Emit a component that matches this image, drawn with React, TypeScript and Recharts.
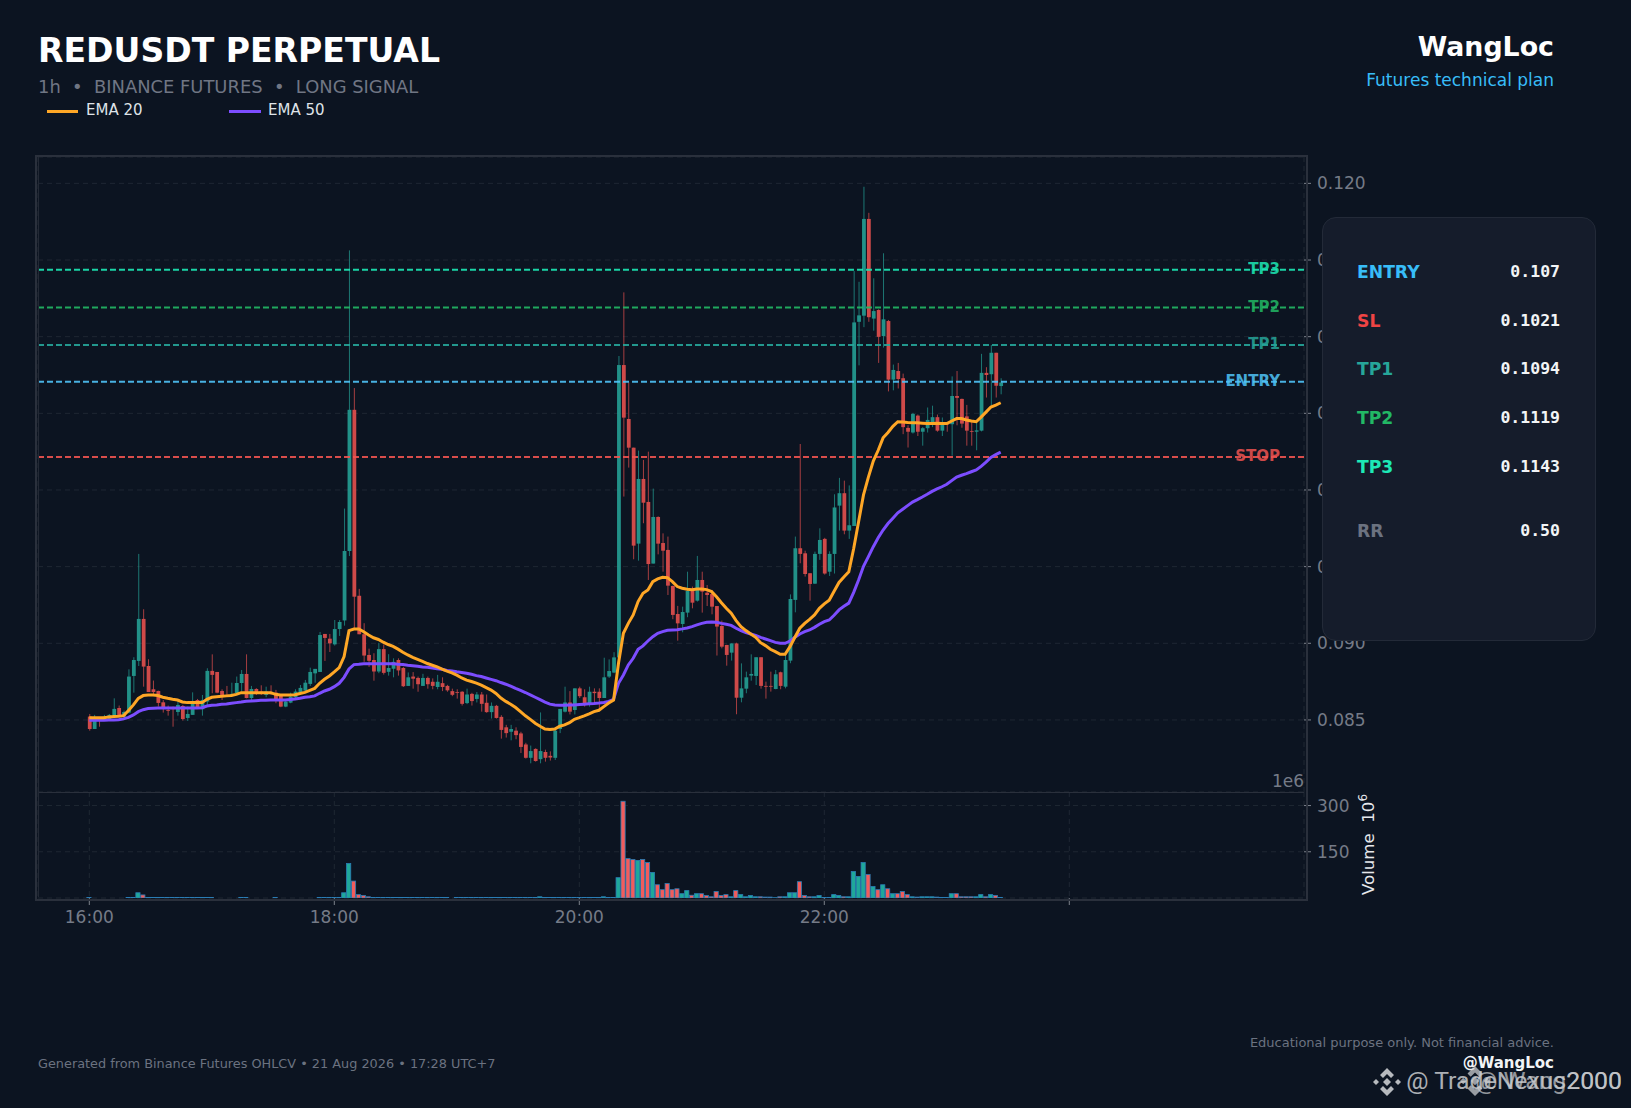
import { Bar, CartesianGrid, ComposedChart, Line, ReferenceLine, XAxis, YAxis } from "recharts";

const opens = [
  8522, 8441, 8511, 8504, 8504, 8530, 8578, 8522, 8548, 8787,
  8885, 9159, 8852, 8700, 8689, 8615, 8565, 8576, 8552, 8591,
  8513, 8533, 8630, 8570, 8620, 8820, 8813, 8689, 8663, 8657,
  8674, 8741, 8800, 8643, 8702, 8685, 8663, 8683, 8678, 8657,
  8587, 8613, 8648, 8674, 8691, 8735, 8804, 8813, 9061, 9030,
  8993, 9093, 9149, 9602, 10523, 9310, 9059, 8924, 8891, 8816,
  8962, 8814, 8834, 8891, 8839, 8722, 8783, 8774, 8722, 8774,
  8749, 8715, 8740, 8722, 8688, 8682, 8684, 8610, 8670, 8637,
  8666, 8612, 8551, 8592, 8520, 8452, 8423, 8430, 8412, 8340,
  8253, 8311, 8244, 8291, 8266, 8253, 8441, 8554, 8614, 8565,
  8706, 8648, 8610, 8684, 8684, 8643, 8783, 8809, 8908, 10815,
  10463, 10276, 9650, 10072, 9922, 9520, 9824, 9654, 9609, 9374,
  9191, 9126, 9200, 9348, 9278, 9413, 9330, 9322, 9243, 9113,
  8989, 8939, 8999, 8645, 8704, 8789, 8787, 8909, 8722, 8722,
  8702, 8811, 8717, 8887, 9283, 9620, 9587, 9457, 9389, 9583,
  9681, 9467, 9583, 9898, 9979, 9735, 9765, 11097, 11137, 11768,
  11118, 11174, 11004, 11102, 10720, 10776, 10729, 10405, 10375, 10485,
  10380, 10403, 10433, 10475, 10387, 10433, 10429, 10613, 10594, 10480,
  10385, 10380, 10387, 10764, 10755, 10895, 10678,
];
const closes = [
  8441, 8511, 8500, 8522, 8533, 8572, 8530, 8552, 8783, 8891,
  9159, 8848, 8682, 8682, 8611, 8576, 8561, 8572, 8598, 8506,
  8539, 8609, 8576, 8630, 8820, 8794, 8678, 8661, 8657, 8670,
  8741, 8800, 8643, 8702, 8678, 8674, 8685, 8670, 8635, 8587,
  8620, 8652, 8685, 8709, 8743, 8813, 8833, 9054, 9035, 9000,
  9093, 9139, 9602, 10523, 9304, 9059, 8920, 8886, 8816, 8962,
  8807, 8839, 8879, 8823, 8720, 8778, 8769, 8733, 8774, 8733,
  8722, 8749, 8715, 8693, 8664, 8677, 8605, 8666, 8623, 8666,
  8605, 8551, 8592, 8513, 8435, 8414, 8441, 8401, 8324, 8253,
  8297, 8232, 8297, 8253, 8255, 8430, 8572, 8614, 8554, 8706,
  8655, 8598, 8684, 8675, 8643, 8778, 8819, 8908, 10815, 10472,
  10276, 9637, 10072, 9917, 9517, 9824, 9650, 9604, 9376, 9185,
  9130, 9204, 9341, 9265, 9413, 9337, 9315, 9239, 9109, 8978,
  8924, 8999, 8645, 8706, 8778, 8800, 8909, 8722, 8717, 8717,
  8798, 8722, 8891, 9289, 9620, 9583, 9452, 9387, 9583, 9674,
  9455, 9583, 9886, 9979, 9735, 9770, 11093, 11139, 11768, 11127,
  11167, 10999, 11113, 10720, 10783, 10724, 10410, 10380, 10496, 10380,
  10403, 10457, 10475, 10387, 10429, 10429, 10613, 10601, 10433, 10387,
  10380, 10389, 10764, 10750, 10895, 10680, 10701,
];
const highs = [
  8539, 8533, 8517, 8533, 8539, 8641, 8594, 8561, 8830, 8909,
  9583, 9222, 8896, 8757, 8691, 8630, 8594, 8587, 8620, 8598,
  8587, 8680, 8637, 8663, 8837, 8928, 8813, 8700, 8722, 8743,
  8783, 8826, 8928, 8722, 8707, 8726, 8717, 8726, 8696, 8663,
  8630, 8678, 8700, 8728, 8761, 8841, 8833, 9074, 9061, 9061,
  9152, 9152, 9879, 11563, 10665, 9355, 9131, 8965, 8935, 9003,
  8992, 8929, 8902, 8902, 8846, 8810, 8812, 8783, 8801, 8783,
  8771, 8794, 8778, 8729, 8704, 8700, 8688, 8704, 8677, 8682,
  8682, 8666, 8614, 8598, 8531, 8468, 8468, 8452, 8423, 8351,
  8333, 8315, 8549, 8306, 8295, 8452, 8572, 8717, 8688, 8706,
  8717, 8700, 8717, 8706, 8706, 8906, 8895, 8942, 10874, 11289,
  10702, 10276, 10257, 10196, 10250, 10009, 9828, 9717, 9696, 9376,
  9244, 9239, 9467, 9370, 9570, 9467, 9380, 9348, 9243, 9148,
  8990, 8999, 9004, 8869, 8815, 8928, 8909, 8909, 8750, 8815,
  8826, 8815, 8930, 9319, 9696, 10300, 9604, 9457, 9598, 9750,
  9688, 9600, 9972, 10079, 10061, 10030, 11428, 11358, 11978, 11808,
  11381, 11179, 11544, 11109, 10818, 10829, 10759, 10422, 10503, 10492,
  10410, 10538, 10550, 10492, 10473, 10438, 10741, 10776, 10596, 10555,
  10457, 10438, 10888, 10801, 10946, 10895, 10729,
];
const lows = [
  8430, 8441, 8456, 8504, 8500, 8522, 8522, 8511, 8543, 8678,
  8852, 8717, 8682, 8663, 8587, 8548, 8528, 8456, 8528, 8496,
  8493, 8533, 8572, 8528, 8594, 8674, 8674, 8630, 8652, 8652,
  8663, 8685, 8641, 8620, 8663, 8663, 8648, 8663, 8609, 8583,
  8583, 8609, 8641, 8663, 8685, 8722, 8743, 8813, 8885, 8943,
  8985, 9048, 9115, 9569, 9093, 9059, 8879, 8846, 8756, 8805,
  8796, 8789, 8778, 8789, 8715, 8722, 8704, 8684, 8722, 8704,
  8700, 8700, 8688, 8684, 8655, 8639, 8594, 8603, 8594, 8614,
  8554, 8547, 8509, 8509, 8378, 8385, 8367, 8374, 8284, 8248,
  8217, 8228, 8217, 8228, 8235, 8239, 8414, 8549, 8536, 8536,
  8643, 8587, 8587, 8610, 8565, 8643, 8774, 8805, 8908, 9957,
  10146, 9548, 9539, 9783, 9413, 9520, 9580, 9467, 9315, 9157,
  9017, 9072, 9170, 9228, 9272, 9200, 9243, 9189, 8920, 8967,
  8854, 8887, 8537, 8615, 8674, 8756, 8728, 8704, 8639, 8685,
  8700, 8700, 8706, 8870, 9202, 9522, 9435, 9278, 9387, 9544,
  9448, 9439, 9455, 9735, 9711, 9681, 9765, 10813, 11062, 11097,
  11039, 10829, 10929, 10643, 10650, 10662, 10364, 10277, 10368, 10352,
  10289, 10375, 10410, 10380, 10352, 10380, 10224, 10422, 10406, 10289,
  10289, 10259, 10382, 10603, 10550, 10603, 10624,
];
const ema20 = [
  8515, 8515, 8515, 8515, 8520, 8522, 8524, 8528, 8561, 8598,
  8641, 8659, 8663, 8663, 8659, 8648, 8641, 8635, 8630, 8617,
  8613, 8613, 8613, 8613, 8635, 8648, 8652, 8654, 8657, 8659,
  8667, 8678, 8678, 8678, 8678, 8678, 8678, 8678, 8667, 8663,
  8663, 8663, 8665, 8672, 8680, 8693, 8706, 8739, 8765, 8787,
  8813, 8841, 8913, 9083, 9093, 9093, 9075, 9054, 9036, 9025,
  9007, 8992, 8980, 8962, 8942, 8924, 8908, 8895, 8882, 8868,
  8857, 8846, 8832, 8819, 8807, 8792, 8774, 8760, 8751, 8740,
  8727, 8711, 8695, 8673, 8643, 8621, 8603, 8581, 8554, 8527,
  8504, 8479, 8459, 8441, 8437, 8441, 8459, 8468, 8482, 8504,
  8515, 8527, 8540, 8554, 8563, 8587, 8610, 8630, 8870, 9065,
  9130, 9185, 9272, 9326, 9348, 9402, 9420, 9430, 9428, 9402,
  9370, 9359, 9352, 9350, 9354, 9354, 9350, 9337, 9304, 9265,
  9228, 9196, 9148, 9109, 9083, 9061, 9039, 9004, 8985, 8961,
  8946, 8928, 8928, 8978, 9039, 9098, 9130, 9156, 9185, 9228,
  9257, 9281, 9339, 9397, 9432, 9467, 9618, 9793, 9968, 10084,
  10189, 10259, 10340, 10375, 10415, 10445, 10443, 10440, 10438, 10438,
  10436, 10433, 10433, 10436, 10433, 10433, 10450, 10466, 10466, 10457,
  10450, 10445, 10475, 10508, 10541, 10554, 10569,
];
const ema50 = [
  8498, 8498, 8498, 8498, 8500, 8500, 8502, 8507, 8517, 8533,
  8554, 8567, 8574, 8576, 8578, 8578, 8578, 8578, 8578, 8578,
  8578, 8578, 8578, 8580, 8591, 8596, 8598, 8602, 8604, 8609,
  8613, 8617, 8622, 8624, 8626, 8628, 8628, 8630, 8630, 8630,
  8630, 8633, 8637, 8641, 8648, 8652, 8657, 8674, 8689, 8700,
  8717, 8739, 8778, 8833, 8861, 8863, 8866, 8866, 8866, 8866,
  8866, 8866, 8866, 8863, 8861, 8857, 8854, 8850, 8846, 8843,
  8839, 8834, 8830, 8823, 8819, 8814, 8810, 8805, 8798, 8789,
  8783, 8774, 8765, 8756, 8744, 8733, 8720, 8706, 8693, 8679,
  8664, 8648, 8632, 8616, 8603, 8598, 8596, 8596, 8598, 8598,
  8601, 8603, 8605, 8607, 8610, 8614, 8621, 8635, 8739, 8793,
  8859, 8902, 8961, 8983, 9015, 9043, 9065, 9076, 9085, 9087,
  9089, 9094, 9100, 9109, 9120, 9130, 9137, 9139, 9137, 9130,
  9124, 9117, 9098, 9083, 9070, 9061, 9052, 9039, 9028, 9017,
  9006, 9000, 9000, 9015, 9039, 9061, 9076, 9087, 9104, 9124,
  9141, 9152, 9183, 9218, 9241, 9262, 9332, 9413, 9502, 9565,
  9630, 9688, 9739, 9781, 9816, 9851, 9874, 9898, 9921, 9937,
  9954, 9972, 9991, 10007, 10021, 10037, 10061, 10084, 10096, 10107,
  10119, 10131, 10154, 10182, 10212, 10231, 10247,
];
// millions
const volumes = [
  1.5, 0, 0, 0, 0, 0, 0, 0, 1.5, 2,
  17, 10, 1.5, 1.5, 1.5, 1.5, 1.5, 1.5, 1.5, 1.5,
  1.5, 1.5, 1.5, 1.5, 1.5, 1.5, 0, 0, 0, 0,
  0, 1.5, 1.5, 0, 0, 0, 0, 0, 1.5, 0,
  0, 0, 0, 0, 0, 0, 0, 1.5, 1.5, 1.5,
  1.5, 1.5, 17, 112, 55, 11, 8, 4, 1.5, 1.5,
  1.5, 1.5, 1.5, 1.5, 1.5, 1.5, 1.5, 1.5, 1.5, 1.5,
  1.5, 1.5, 1.5, 1.5, 0, 1.5, 1.5, 1.5, 1.5, 1.5,
  1.5, 1.5, 1.5, 1.5, 1.5, 1.5, 1.5, 1.5, 1.5, 1.5,
  1.5, 1.5, 4, 1.5, 1.5, 1.5, 1.5, 1.5, 1.5, 1.5,
  1.5, 1.5, 1.5, 1.5, 1.5, 4, 1.5, 1.5, 66, 314,
  128, 125, 122, 125, 115, 83, 43, 27, 47, 27,
  30, 14, 24, 9, 14, 14, 8, 4, 21, 8,
  11, 4, 24, 11, 4, 8, 4, 4, 3, 3,
  1, 4, 4, 17, 17, 53, 8, 4, 4, 8,
  2, 2, 11, 8, 4, 4, 86, 70, 115, 76,
  37, 27, 43, 30, 14, 14, 21, 11, 4, 3,
  4, 4, 4, 3, 2, 2, 14, 14, 4, 4,
  4, 4, 11, 4, 11, 8, 2,
];

const timeTicks = [0, 50, 100, 150, 200];
const timeLabels = ["16:00", "18:00", "20:00", "22:00", ""];
const priceTicks = [0.085, 0.09, 0.095, 0.1, 0.105, 0.11, 0.115, 0.12];
const volumeTicks = [150, 300];

const levelNames = ["TP3", "TP2", "TP1", "ENTRY", "STOP"];
const levelPrices = [0.11436, 0.1119, 0.10945, 0.10706, 0.10215];
const levelColors = ["#1de9b6", "#22b865", "#26a69a", "#4fc3f7", "#ef5350"];

const planLabels = ["ENTRY", "SL", "TP1", "TP2", "TP3", "RR"];
const planValues = ["0.107", "0.1021", "0.1094", "0.1119", "0.1143", "0.50"];
const planColors = ["#38bdf8", "#ef4444", "#26a69a", "#22b865", "#1de9b6", "#6b7280"];
const planRows = [273, 322, 370, 419, 468, 532];

const UP = "#26a69a";
const DOWN = "#ef5350";
const GRID = "#1f2733";
const AXIS_TEXT = "#757b87";
const FONT = "'DejaVu Sans', sans-serif";

const chartData = opens.map((open, i) => ({
  idx: i,
  open: open / 1e5,
  close: closes[i] / 1e5,
  range: [lows[i] / 1e5, highs[i] / 1e5],
  ema20: ema20[i] / 1e5,
  ema50: ema50[i] / 1e5,
  volume: volumes[i],
}));

function Candle(props: any) {
  const { x, y, width, height, payload } = props;
  const [low, high] = payload.range;
  const pxPerPrice = height / (high - low);
  const top = y + (high - Math.max(payload.open, payload.close)) * pxPerPrice;
  const bodyH = Math.abs(payload.open - payload.close) * pxPerPrice;
  const color = payload.close >= payload.open ? UP : DOWN;
  return (
    <g opacity={0.86}>
      <line x1={x + width / 2} x2={x + width / 2} y1={y} y2={y + height} stroke={color} strokeWidth={0.8} />
      <rect x={x} y={top} width={width} height={Math.max(bodyH, 0.8)} fill={color} />
    </g>
  );
}

function VolumeBar(props: any) {
  const { x, y, width, height, payload } = props;
  if (!payload.volume) return null;
  const color = payload.close >= payload.open ? "#1fa89a" : "#f25c5c";
  return <rect x={x} y={y} width={width} height={height} fill={color} stroke="#2a7db5" strokeWidth={0.8} />;
}

function text(left: number, top: number, style: any, content: any, right?: number) {
  const pos = right !== undefined ? { right: 1631 - right } : { left };
  return (
    <div style={{ position: "absolute", top, whiteSpace: "pre", lineHeight: 1, ...pos, ...style }}>{content}</div>
  );
}

function BinanceLogo({ x, y, size, opacity }: { x: number; y: number; size: number; opacity: number }) {
  return (
    <svg style={{ position: "absolute", left: x, top: y, opacity }} width={size} height={size} viewBox="0 0 28 28">
      <g fill="#d5d7da">
        <polygon points="14,0 21,7 18,10 14,6 10,10 7,7" />
        <polygon points="14,28 7,21 10,18 14,22 18,18 21,21" />
        <polygon points="3,11 6,14 3,17 0,14" />
        <polygon points="25,11 28,14 25,17 22,14" />
        <polygon points="14,10 18,14 14,18 10,14" />
      </g>
    </svg>
  );
}

export default function App() {
  return (
    <div style={{ position: "fixed", left: 0, top: 0, width: 1631, height: 1108, background: "#0c1421", fontFamily: FONT, overflow: "hidden" }}>
      {/* price panel */}
      <div style={{ position: "absolute", left: 0, top: 157 }}>
        <ComposedChart width={1402} height={635} data={chartData} margin={{ top: 0, left: 38, right: 0, bottom: 0 }}>
          <CartesianGrid stroke={GRID} strokeDasharray="5 4" />
          <XAxis dataKey="idx" type="number" domain={[-10.47, 247.9]} ticks={timeTicks} height={0} tick={false} axisLine={false} tickLine={false} allowDataOverflow />
          <YAxis
            orientation="right"
            width={98}
            domain={[0.0803, 0.12172]}
            ticks={priceTicks}
            allowDataOverflow
            axisLine={false}
            tickLine={{ stroke: "#7d828c" }}
            tickSize={7}
            tickMargin={6}
            tick={{ fill: AXIS_TEXT, fontSize: 17 }}
            tickFormatter={(v: number) => v.toFixed(3)}
          />
          <Bar dataKey="range" barSize={3.8} shape={<Candle />} isAnimationActive={false} />
          {levelNames.map((name, i) => (
            <ReferenceLine
              key={name}
              y={levelPrices[i]}
              stroke={levelColors[i]}
              strokeWidth={2}
              strokeDasharray="6 3"
              strokeOpacity={0.9}
              label={{ value: name, position: "insideRight", offset: 24, dy: -1, fill: levelColors[i], fontSize: 15, fontWeight: 700, opacity: 0.85 }}
            />
          ))}
          <Line dataKey="ema50" stroke="#7c4dff" strokeWidth={3} dot={false} isAnimationActive={false} />
          <Line dataKey="ema20" stroke="#ffa726" strokeWidth={3} dot={false} isAnimationActive={false} />
        </ComposedChart>
      </div>

      {/* volume panel */}
      <div style={{ position: "absolute", left: 0, top: 792 }}>
        <ComposedChart width={1402} height={146} data={chartData} margin={{ top: 0, left: 38, right: 0, bottom: 0 }}>
          <CartesianGrid stroke={GRID} strokeDasharray="5 4" />
          <XAxis
            dataKey="idx"
            type="number"
            domain={[-10.47, 247.9]}
            ticks={timeTicks}
            interval={0}
            height={40}
            allowDataOverflow
            axisLine={false}
            tickLine={{ stroke: "#7d828c" }}
            tickSize={7}
            tickMargin={6}
            tick={{ fill: AXIS_TEXT, fontSize: 17 }}
            tickFormatter={(v: number) => timeLabels[timeTicks.indexOf(v)]}
          />
          <YAxis
            orientation="right"
            width={98}
            domain={[0, 344]}
            ticks={volumeTicks}
            allowDataOverflow
            axisLine={false}
            tickLine={{ stroke: "#7d828c" }}
            tickSize={7}
            tickMargin={6}
            tick={{ fill: AXIS_TEXT, fontSize: 17 }}
          />
          <Bar dataKey="volume" barSize={4.2} shape={<VolumeBar />} isAnimationActive={false} />
        </ComposedChart>
      </div>

      {/* spines */}
      <div style={{ position: "absolute", left: 35, top: 155, width: 1269, height: 742, border: "2px solid #2a303c", pointerEvents: "none" }} />
      <div style={{ position: "absolute", left: 38, top: 791.5, width: 1266, height: 1, background: "#2a303c" }} />
      <div style={{ position: "absolute", left: 38, top: 157, width: 1, height: 740, background: "#232935" }} />

      {text(0, 773, { color: AXIS_TEXT, fontSize: 17 }, "1e6", 1304)}
      <div style={{ position: "absolute", left: 1357, top: 895, transformOrigin: "0 0", transform: "rotate(-90deg)", color: "#e6e8ec", fontSize: 16.6, whiteSpace: "pre", lineHeight: 1 }}>
        {"Volume  10"}
        <sup style={{ fontSize: 12 }}>6</sup>
      </div>

      {/* header */}
      {text(38, 34, { color: "#fff", fontSize: 33.1, fontWeight: 700 }, "REDUSDT PERPETUAL")}
      {text(38, 78, { color: "#707684", fontSize: 17.9 }, "1h  •  BINANCE FUTURES  •  LONG SIGNAL")}
      <div style={{ position: "absolute", left: 47, top: 110, width: 31, height: 3, background: "#ffa726" }} />
      {text(86, 103, { color: "#dfe3e8", fontSize: 15 }, "EMA 20")}
      <div style={{ position: "absolute", left: 229, top: 110, width: 32, height: 3, background: "#7c4dff" }} />
      {text(268, 103, { color: "#dfe3e8", fontSize: 15 }, "EMA 50")}
      {text(0, 34, { color: "#fff", fontSize: 26.8, fontWeight: 700 }, "WangLoc", 1554)}
      {text(0, 72, { color: "#38bdf8", fontSize: 17 }, "Futures technical plan", 1554)}

      {/* trade plan panel */}
      <div style={{ position: "absolute", left: 1322, top: 217, width: 272, height: 422, background: "#151c2b", border: "1.5px solid #232a38", borderRadius: 14 }} />
      {planLabels.map((label, i) => (
        <div key={label}>
          {text(1357, planRows[i] - 9, { color: planColors[i], fontSize: 17.2, fontWeight: 700 }, label)}
          {text(0, planRows[i] - 9, { color: "#f2f4f6", fontSize: 16.5, fontWeight: 700, fontFamily: "'DejaVu Sans Mono', monospace" }, planValues[i], 1560)}
        </div>
      ))}

      {/* footer */}
      {text(38, 1058, { color: "#6b7280", fontSize: 12.85 }, "Generated from Binance Futures OHLCV • 21 Aug 2026 • 17:28 UTC+7")}
      {text(0, 1036, { color: "#6b7280", fontSize: 13 }, "Educational purpose only. Not financial advice.", 1554)}
      {text(0, 1056, { color: "#f2f4f6", fontSize: 15, fontWeight: 700 }, "@WangLoc", 1554)}

      {/* watermarks */}
      <BinanceLogo x={1373} y={1068} size={28} opacity={0.85} />
      <BinanceLogo x={1460} y={1066} size={30} opacity={0.7} />
      {text(0, 1069, { color: "#c9cbce", fontSize: 24.8, fontFamily: "Roboto, sans-serif", opacity: 0.85 }, "@ TradeNexus2000", 1622)}
      {text(0, 1069, { color: "#c9cbce", fontSize: 24.8, fontFamily: "Roboto, sans-serif", opacity: 0.7 }, "@ Wang2000", 1622)}
    </div>
  );
}
